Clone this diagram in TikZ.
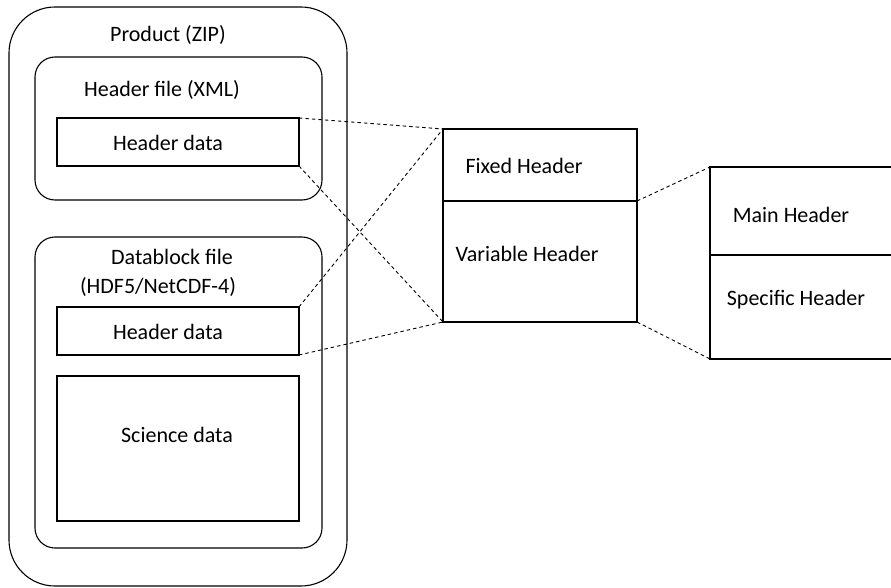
\documentclass[tikz,border=0pt]{standalone}
\usepackage{fontspec}
\setmainfont{Carlito}
\usepackage{tikz}

\begin{document}
\begin{tikzpicture}[x=1pt, y=-1pt, line width=1.1pt,
  box/.style={draw, inner sep=0pt, outer sep=0pt},
  fbox/.style={box, rounded corners=20pt},
  lbl/.style={inner sep=0pt, font=\fontsize{22}{26}\selectfont},
  link/.style={line width=0.9pt, dash pattern=on 3.5pt off 3pt}]

\clip (0,0) rectangle (891,588);

\node[box, rounded corners=46pt, minimum width=338pt, minimum height=579pt] (prod) at (178,296.5) {};
\node[fbox, minimum width=287pt, minimum height=143pt] (hfile) at (178.5,128.5) {};
\node[fbox, minimum width=287pt, minimum height=311pt] (dfile) at (178.5,392.5) {};
\node[box, minimum width=242pt, minimum height=48pt] (hdA) at (178,142) {};
\node[box, minimum width=242pt, minimum height=48pt] (hdB) at (178,331) {};
\node[box, minimum width=242pt, minimum height=145pt] (sci) at (178,448.5) {};

\node[lbl] (prodl) at (168,35) {Product (ZIP)};
\node[lbl] (hfilel) at (162,90) {Header file (XML)};
\node[lbl] (hdAl) at (168,143) {Header data};
\node[lbl] (dfilel) at (172,257) {Datablock file};
\node[lbl] (dfmt) at (158,287) {(HDF5/NetCDF-4)};
\node[lbl] (hdBl) at (168,332) {Header data};
\node[lbl] (scil) at (177,435) {Science data};

\node[box, minimum width=194pt, minimum height=72pt] (fixed) at (540,165) {};
\node[box, minimum width=194pt, minimum height=121pt] (var) at (540,261.5) {};
\node[lbl] (fixedl) at (524,166) {Fixed Header};
\node[lbl] (varl) at (527,254) {Variable Header};

\node[box, minimum width=190pt, minimum height=88pt] (main) at (805,211) {};
\node[box, minimum width=190pt, minimum height=104pt] (spec) at (805,307) {};
\node[lbl] (mainl) at (791,215) {Main Header};
\node[lbl] (specl) at (796,300) {Specific Header};

\draw[link] (hdA.north east) -- (fixed.north west);
\draw[link] (hdA.south east) -- (var.south west);
\draw[link] (hdB.north east) -- (fixed.north west);
\draw[link] (hdB.south east) -- (var.south west);
\draw[link] (var.north east) -- (main.north west);
\draw[link] (var.south east) -- (spec.south west);

\end{tikzpicture}
\end{document}
